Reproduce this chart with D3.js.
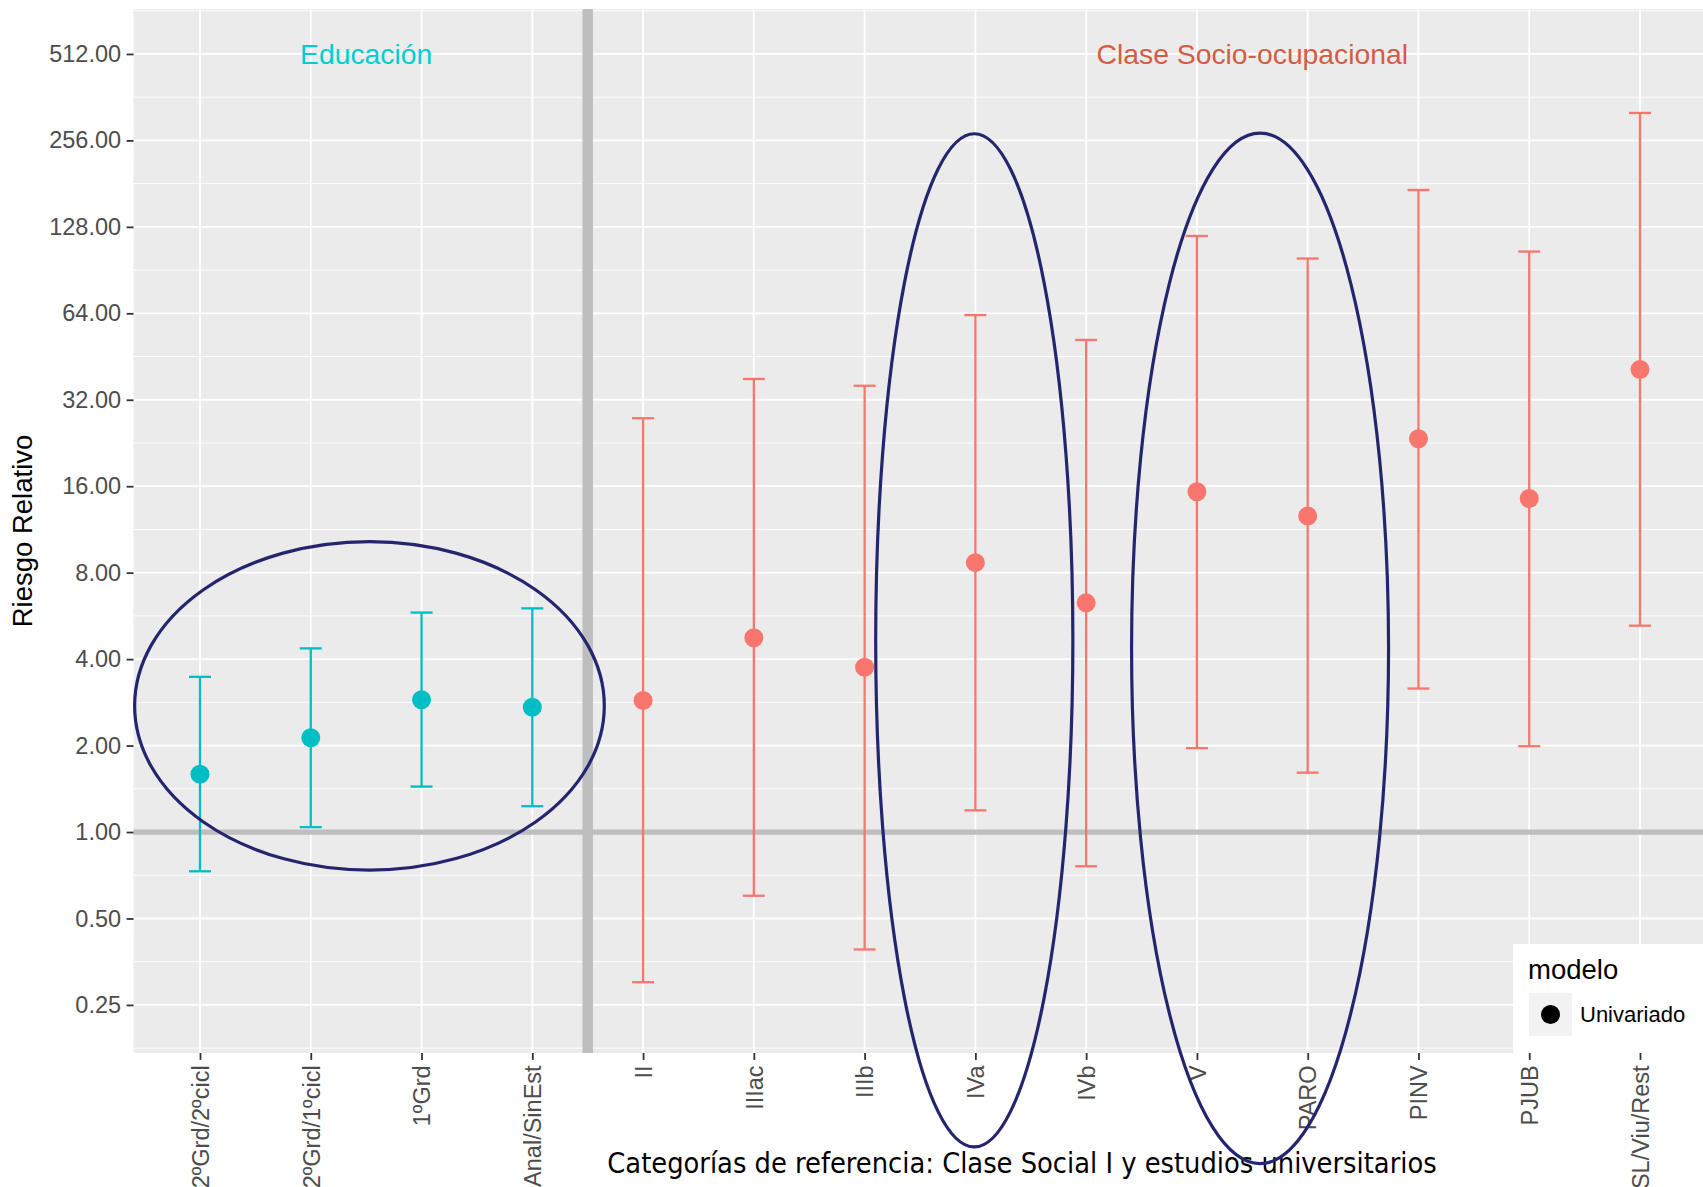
<!DOCTYPE html>
<html>
<head>
<meta charset="utf-8">
<script src="https://cdn.jsdelivr.net/npm/d3@7"></script>
<style>
  body { margin: 0; background: #fff; }
  text { font-family: "Liberation Sans", Arial, Helvetica, sans-serif; }
</style>
</head>
<body>
<div id="chart"></div>
<script>
// Categories and values (riesgo relativo + IC)
let categories = ["2ºGrd/2ºcicl", "2ºGrd/1ºcicl", "1ºGrd", "Anal/SinEst", "II", "IIIac", "IIIb",
  "IVa", "IVb", "V", "PARO", "PINV", "PJUB", "SL/Viu/Rest"];
let grupo = ["Educación", "Educación", "Educación", "Educación", "Clase", "Clase", "Clase",
  "Clase", "Clase", "Clase", "Clase", "Clase", "Clase", "Clase"];
let rr = [1.59, 2.13, 2.89, 2.72, 2.87, 4.75, 3.75, 8.67, 6.28, 15.3, 12.6, 23.4, 14.5, 40.8];
let lower = [0.73, 1.04, 1.44, 1.23, 0.30, 0.60, 0.39, 1.19, 0.76, 1.96, 1.61, 3.16, 1.99, 5.23];
let upper = [3.47, 4.36, 5.81, 6.01, 27.6, 37.8, 35.8, 63.1, 51.7, 119, 99.3, 172, 105, 319];
let yTicks = [0.25, 0.5, 1, 2, 4, 8, 16, 32, 64, 128, 256, 512];

// hand-drawn ellipses (center in category index / value, radii in categories / octaves)
let ellCx = [2.53, 7.99, 10.57];
let ellCy = [2.75, 4.65, 4.36];
let ellRx = [2.12, 0.89, 1.16];
let ellRy = [1.90, 5.86, 5.96];

let width = 1703, height = 1187;
let panel = { left: 133.5, right: 1706.5, top: 9, bottom: 1053 };

let svg = d3.select("#chart").append("svg")
  .attr("width", width)
  .attr("height", height);

// Scales
let x = d3.scaleLinear()
  .domain([1, 14])
  .range([200, 1640]);

let y = d3.scaleLog().base(2)
  .domain([Math.pow(2, -2.556), Math.pow(2, 9.52)])
  .range([panel.bottom, panel.top]);

let color = d => d == "Educación" ? "#00BFC4" : "#F8766D";

// panel background
svg.append("rect")
  .attr("x", panel.left).attr("y", panel.top)
  .attr("width", panel.right - panel.left)
  .attr("height", panel.bottom - panel.top)
  .attr("fill", "#EBEBEB");

// minor grid
let minor = d3.range(-3, 10).map(k => Math.pow(2, k + 0.5))
  .filter(v => y(v) >= panel.top && y(v) <= panel.bottom);
svg.append("g").selectAll("line")
  .data(minor)
  .join("line")
    .attr("x1", panel.left).attr("x2", panel.right)
    .attr("y1", d => y(d)).attr("y2", d => y(d))
    .attr("stroke", "#fff").attr("stroke-width", 0.9);

// major grid
svg.append("g").selectAll("line")
  .data(yTicks)
  .join("line")
    .attr("x1", panel.left).attr("x2", panel.right)
    .attr("y1", d => y(d)).attr("y2", d => y(d))
    .attr("stroke", "#fff").attr("stroke-width", 1.8);

svg.append("g").selectAll("line")
  .data(d3.range(1, 15))
  .join("line")
    .attr("x1", d => x(d)).attr("x2", d => x(d))
    .attr("y1", panel.top).attr("y2", panel.bottom)
    .attr("stroke", "#fff").attr("stroke-width", 1.8);

// reference lines
svg.append("line")
  .attr("x1", panel.left).attr("x2", panel.right)
  .attr("y1", y(1)).attr("y2", y(1))
  .attr("stroke", "#BEBEBE").attr("stroke-width", 5.3);

svg.append("line")
  .attr("x1", x(4.5)).attr("x2", x(4.5))
  .attr("y1", panel.top).attr("y2", panel.bottom)
  .attr("stroke", "#BEBEBE").attr("stroke-width", 10.5);

// annotations
svg.append("text")
  .attr("x", x(2.5)).attr("y", y(512))
  .attr("dy", "0.36em")
  .attr("text-anchor", "middle")
  .attr("font-size", 28.3)
  .attr("fill", "#00CED1")
  .text("Educación");

svg.append("text")
  .attr("x", x(10.5)).attr("y", y(512))
  .attr("dy", "0.36em")
  .attr("text-anchor", "middle")
  .attr("font-size", 28.3)
  .attr("fill", "#D65B42")
  .text("Clase Socio-ocupacional");

// error bars
let data = categories.map((c, i) => ({ i: i + 1, cat: c, g: grupo[i], rr: rr[i], lo: lower[i], hi: upper[i] }));

let bars = svg.append("g").selectAll("g")
  .data(data)
  .join("g")
    .attr("stroke", d => color(d.g))
    .attr("stroke-width", 2.3);

bars.append("line")
  .attr("x1", d => x(d.i)).attr("x2", d => x(d.i))
  .attr("y1", d => y(d.lo)).attr("y2", d => y(d.hi));
bars.append("line")
  .attr("x1", d => x(d.i) - 11).attr("x2", d => x(d.i) + 11)
  .attr("y1", d => y(d.lo)).attr("y2", d => y(d.lo));
bars.append("line")
  .attr("x1", d => x(d.i) - 11).attr("x2", d => x(d.i) + 11)
  .attr("y1", d => y(d.hi)).attr("y2", d => y(d.hi));

svg.append("g").selectAll("circle")
  .data(data)
  .join("circle")
    .attr("cx", d => x(d.i))
    .attr("cy", d => y(d.rr))
    .attr("r", 9.5)
    .attr("fill", d => color(d.g));

// axes
let yAxis = d3.axisLeft(y)
  .tickValues(yTicks)
  .tickSize(6.9)
  .tickPadding(5.5)
  .tickFormat(d3.format(".2f"));

let yAxisEl = svg.append("g")
  .attr("transform", "translate(" + panel.left + ",0)")
  .call(yAxis);
yAxisEl.select(".domain").remove();
yAxisEl.selectAll("line").attr("stroke", "#333333").attr("stroke-width", 1.8);
yAxisEl.selectAll("text").attr("fill", "#4D4D4D").attr("font-size", 23.5)
  .style("font-family", "'Liberation Sans', Arial, sans-serif");

let xAxis = d3.axisBottom(x)
  .tickValues(d3.range(1, 15))
  .tickSize(6.9)
  .tickPadding(5.5)
  .tickFormat(i => categories[i - 1]);

let xAxisEl = svg.append("g")
  .attr("transform", "translate(0," + panel.bottom + ")")
  .call(xAxis);
xAxisEl.select(".domain").remove();
xAxisEl.selectAll("line").attr("stroke", "#333333").attr("stroke-width", 1.8);
xAxisEl.selectAll("text")
  .attr("fill", "#4D4D4D").attr("font-size", 23.5)
  .style("font-family", "'Liberation Sans', Arial, sans-serif")
  .attr("text-anchor", "end")
  .attr("transform", "rotate(-90)")
  .attr("x", -12.4)
  .attr("y", 0)
  .attr("dy", "0.35em");

// axis titles
svg.append("text")
  .attr("transform", "translate(32," + ((panel.top + panel.bottom) / 2) + ") rotate(-90)")
  .attr("text-anchor", "middle")
  .attr("font-size", 27.5)
  .attr("fill", "#000")
  .text("Riesgo Relativo");

svg.append("text")
  .attr("x", 1022)
  .attr("y", 1173)
  .attr("text-anchor", "middle")
  .attr("font-size", 28.7)
  .attr("fill", "#000")
  .style("font-family", "'Liberation Sans Narrow', 'DejaVu Sans Condensed', sans-serif")
  .text("Categorías de referencia: Clase Social I y estudios universitarios");

// legend
let legend = svg.append("g").attr("transform", "translate(1513,944)");
legend.append("rect")
  .attr("width", 200).attr("height", panel.bottom - 944)
  .attr("fill", "#fff");
legend.append("text")
  .attr("x", 15).attr("y", 35)
  .attr("font-size", 27.5)
  .attr("fill", "#000")
  .text("modelo");
legend.append("rect")
  .attr("x", 16).attr("y", 49)
  .attr("width", 43).attr("height", 43)
  .attr("fill", "#F2F2F2");
legend.append("circle")
  .attr("cx", 37.5).attr("cy", 70.5)
  .attr("r", 9.5)
  .attr("fill", "#000");
legend.append("text")
  .attr("x", 67).attr("y", 70.5)
  .attr("dy", "0.35em")
  .attr("font-size", 22)
  .attr("fill", "#000")
  .text("Univariado");

// ellipses on top
svg.append("g").selectAll("ellipse")
  .data(d3.range(ellCx.length))
  .join("ellipse")
    .attr("cx", i => x(ellCx[i]))
    .attr("cy", i => y(ellCy[i]))
    .attr("rx", i => x(ellCx[i] + ellRx[i]) - x(ellCx[i]))
    .attr("ry", i => y(ellCy[i]) - y(ellCy[i] * Math.pow(2, ellRy[i])))
    .attr("fill", "none")
    .attr("stroke", "#25256F")
    .attr("stroke-width", 3.2);
</script>
</body>
</html>
